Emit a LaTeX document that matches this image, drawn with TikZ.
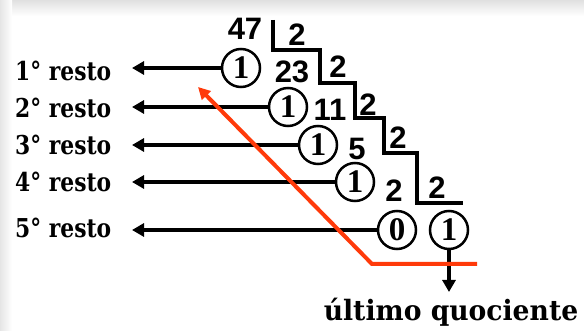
\documentclass[tikz,border=0pt]{standalone}
\usepackage{fontspec}
\setmainfont{DejaVu Serif}
\newfontfamily\lblfont{DejaVu Serif}[FakeStretch=0.84]
\newfontfamily\ultfont{DejaVu Serif}[FakeStretch=0.95]
\newfontfamily\numfont{Liberation Sans}
\newfontfamily\circfont{Liberation Serif}
\usetikzlibrary{arrows.meta}
\definecolor{redline}{RGB}{255,58,10}
\begin{document}
\begin{tikzpicture}[x=1pt,y=-1pt,
  lbl/.style={anchor=west,inner sep=0pt,font=\lblfont\bfseries\fontsize{26}{26}\selectfont},
  num/.style={inner sep=0pt,font=\numfont\bfseries\fontsize{31}{31}\selectfont},
  rem/.style={circle,draw,line width=2.5pt,minimum size=38pt,inner sep=0pt,font=\circfont\bfseries\fontsize{33}{33}\selectfont},
  conn/.style={line width=3.5pt,-{Triangle[length=12pt,width=13pt]}},
  stair/.style={line width=4pt},
  redarrow/.style={line width=4pt,draw=redline,-{Triangle[length=12pt,width=12pt]}}]
\useasboundingbox (0,0) rectangle (584,331);
\fill[white] (0,0) rectangle (584,331);
\fill[top color=black!12,bottom color=white] (0,0) rectangle (584,16);
\fill[left color=black!10,right color=white] (0,0) rectangle (12,331);

% labels
\node[lbl] (l1) at (15,71) {1° resto};
\node[lbl] (l2) at (15,108) {2° resto};
\node[lbl] (l3) at (15,145) {3° resto};
\node[lbl] (l4) at (15,182) {4° resto};
\node[lbl] (l5) at (15,228) {5° resto};
\node[inner sep=0pt,font=\ultfont\bfseries\fontsize{28}{28}\selectfont] (ult) at (451,312) {último quociente};

% dividends, divisors, quotients
\node[num] (n47) at (245,29) {47};
\node[num] (d1) at (297,35) {2};
\node[num] (q23) at (292,72) {23};
\node[num] (d2) at (338,67) {2};
\node[num] (q11) at (330,110) {11};
\node[num] (d3) at (368,105) {2};
\node[num] (q5) at (357,149) {5};
\node[num] (d4) at (398,138) {2};
\node[num] (q2) at (394,191) {2};
\node[num] (d5) at (437,188) {2};

% staircase
\draw[stair] (273,20) |- (320,50) |- (355,83) |- (384,118) |- (417,153) |- (463,203);

% remainders
\node[rem] (c1) at (241,68) {1};
\node[rem] (c2) at (288,107) {1};
\node[rem] (c3) at (318,145) {1};
\node[rem] (c4) at (355,182) {1};
\node[rem] (c5) at (397,230) {0};
\node[rem] (c6) at (449,230) {1};

% connectors
\coordinate (tipx) at (132,0);
\coordinate (bot) at (0,292);
\draw[conn] (c1) -- (c1 -| tipx);
\draw[conn] (c2) -- (c2 -| tipx);
\draw[conn] (c3) -- (c3 -| tipx);
\draw[conn] (c4) -- (c4 -| tipx);
\draw[conn] (c5) -- (c5 -| tipx);
\draw[conn] (c6) -- (c6 |- bot);

% red line
\coordinate (r0) at (477,264);
\coordinate (r1) at (372,264);
\coordinate (r2) at (198,87);
\draw[redarrow] (r0) -- (r1) -- (r2);
\end{tikzpicture}
\end{document}
